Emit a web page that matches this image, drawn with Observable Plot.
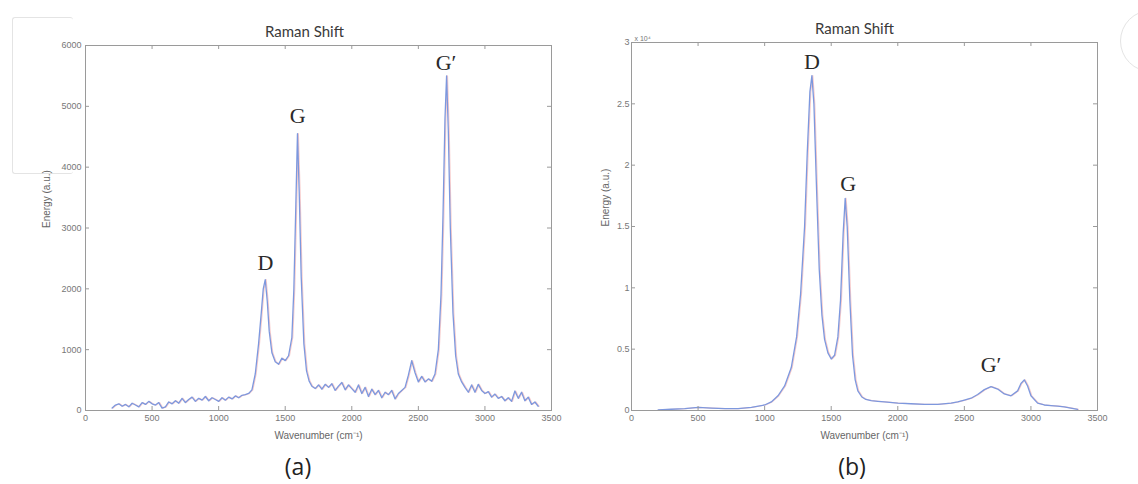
<!DOCTYPE html>
<html><head><meta charset="utf-8">
<script src="https://cdn.jsdelivr.net/npm/d3@7"></script>
<script src="https://cdn.jsdelivr.net/npm/@observablehq/plot@0.6"></script>
<style>
body{margin:0;background:#fff;}
#wrap{position:relative;width:1138px;height:484px;overflow:hidden;background:#fff;}
.panel{position:absolute;top:0;}
.cap{position:absolute;top:450px;font-family:"Open Sans",sans-serif;font-size:23px;color:#222;transform:translateX(-50%);}
.deco{position:absolute;border:1px solid #e4e4e4;}
</style>
</head><body><div id="wrap"></div>
<script>
// ---- Panel (a) data ----
const wavenumberA = [200,225,250,275,300,325,350,375,400,425,450,475,500,525,550,575,600,625,650,675,700,725,750,775,800,825,850,875,900,925,950,975,1000,1025,1050,1075,1100,1125,1150,1175,1200,1225,1250,1275,1300,1320,1335,1350,1365,1380,1400,1425,1450,1475,1500,1525,1550,1565,1580,1592,1605,1620,1640,1660,1680,1700,1725,1750,1775,1800,1825,1850,1875,1900,1925,1950,1975,2000,2025,2050,2075,2100,2125,2150,2175,2200,2225,2250,2275,2300,2325,2350,2375,2400,2425,2450,2475,2500,2525,2550,2575,2600,2625,2650,2670,2685,2700,2712,2725,2740,2760,2780,2800,2825,2850,2875,2900,2925,2950,2975,3000,3025,3050,3075,3100,3125,3150,3175,3200,3225,3250,3275,3300,3325,3350,3375,3400];
const energyA = [40,90,110,70,100,60,120,90,60,130,100,150,110,90,130,40,60,140,110,160,120,200,130,180,220,150,200,170,230,160,210,180,150,210,170,220,190,240,210,250,260,280,340,600,1100,1600,2000,2150,1800,1300,950,800,760,860,820,900,1200,2000,3400,4550,3600,2200,1100,650,480,400,360,420,350,430,380,440,330,400,460,340,420,360,300,420,280,380,230,350,260,330,210,300,260,330,190,280,330,380,580,820,620,470,560,470,520,480,600,1000,1900,3200,4800,5500,4600,3000,1600,900,600,470,380,300,420,300,430,330,280,310,220,270,200,230,160,210,150,320,200,300,160,220,100,140,70];
const yTicksA = [0,1000,2000,3000,4000,5000,6000];

// ---- Panel (b) data ----
const wavenumberB = [200,300,400,500,600,700,800,900,1000,1050,1100,1150,1200,1240,1270,1300,1320,1340,1355,1370,1390,1410,1430,1450,1475,1500,1525,1550,1570,1590,1605,1620,1640,1660,1680,1700,1730,1760,1800,1850,1900,2000,2100,2200,2300,2400,2450,2500,2550,2600,2650,2700,2750,2800,2850,2900,2925,2950,2975,3000,3050,3100,3150,3200,3250,3300,3350];
const energyB = [50,100,150,250,200,150,150,250,450,700,1200,2000,3500,6000,9500,15000,21000,26000,27300,25000,18000,11500,7800,5800,4700,4200,4500,6000,9000,14500,17300,15000,9000,4500,2500,1600,1100,900,800,750,700,600,550,500,500,600,700,850,1000,1300,1700,1950,1750,1350,1200,1600,2200,2500,2000,1200,600,450,400,350,300,200,100];
const yTicksB = [0,5000,10000,15000,20000,25000,30000];

// ---- shared ----
const xTicks = [0,500,1000,1500,2000,2500,3000,3500];
const peakNames = ["D","G","G\u2032"];
const peakXA = [1352,1593,2708];
const peakYA = [2150,4550,5500];
const peakXB = [1355,1628,2700];
const peakYB = [27300,17300,1950];
const captions = ["(a)","(b)"];
const titleText = "Raman Shift";
const xLabel = "Wavenumber (cm\u207B\u00B9)";
const yLabel = "Energy (a.u.)";

const blue = "#7d98de", pink = "#f2a8a8", frameGray = "#9a9a9a", tickGray = "#777";

function panel(opts) {
  const W = 569, H = 484;
  const mT = opts.mT, mB = 74, mL = opts.mL, mR = opts.mR;
  const ph = H - mT - mB, pw = W - mL - mR;
  const data = opts.xs.map((x, i) => ({x, y: opts.ys[i]}));
  const peakMarks = peakNames.map((t, i) =>
    Plot.text([{t, x: opts.px[i], y: opts.py[i]}], {x: "x", y: "y", text: "t", dy: opts.pdy[i],
      fontFamily: "'Liberation Serif', serif", fontSize: 22, fill: "#2a2a2a"}));
  return Plot.plot({
    width: W, height: H,
    marginTop: mT, marginBottom: mB, marginLeft: mL, marginRight: mR,
    x: {domain: [0, 3500]},
    y: {domain: opts.yDomain},
    style: {background: "transparent", fontFamily: "'Liberation Sans', Arial, sans-serif", fontSize: "9px", color: tickGray},
    marks: [
      Plot.line(data, {x: "x", y: "y", stroke: pink, strokeWidth: 1.2, dx: 0.9, strokeOpacity: 0.6}),
      Plot.line(data, {x: "x", y: "y", stroke: blue, strokeWidth: 1.3}),
      Plot.frame({stroke: frameGray}),
      Plot.tickX(xTicks, {x: d => d, insetTop: ph - 4, stroke: frameGray}),
      Plot.tickX(xTicks, {x: d => d, insetBottom: ph - 4, stroke: frameGray}),
      Plot.tickY(opts.yTicks, {y: d => d, insetRight: pw - 4, stroke: frameGray}),
      Plot.tickY(opts.yTicks, {y: d => d, insetLeft: pw - 4, stroke: frameGray}),
      Plot.axisX(xTicks, {tickSize: 0, tickPadding: 4, label: null, tickFormat: d => String(d), fill: tickGray, fontSize: 9}),
      Plot.axisY(opts.yTicks, {tickSize: 0, tickPadding: opts.yPad, label: null, tickFormat: opts.yFormat, fill: tickGray, fontSize: 9}),
      ...peakMarks,
      Plot.text([titleText], {frameAnchor: "top", text: d => d, dy: -19, dx: opts.titleDx, fontFamily: "Lato, sans-serif", fontSize: 15, fill: "#3a3a3a"}),
      Plot.text([xLabel], {frameAnchor: "bottom", text: d => d, dy: 28, fontSize: 10, fill: "#666"}),
      Plot.text([yLabel], {frameAnchor: "left", text: d => d, rotate: -90, dx: opts.yLabDx, fontSize: 10, fill: "#666"}),
      ...(opts.extra || [])
    ]
  });
}

const wrap = document.getElementById("wrap");

const a = panel({
  xs: wavenumberA, ys: energyA, yTicks: yTicksA, yDomain: [0, 6000],
  yFormat: d => String(d), yPad: 4, mT: 45, mL: 85, mR: 18, yLabDx: -39, titleDx: -14,
  px: peakXA, py: peakYA, pdy: [-17, -18, -13]
});
a.classList.add("panel"); a.style.left = "0px";
wrap.appendChild(a);

const b = panel({
  xs: wavenumberB, ys: energyB, yTicks: yTicksB, yDomain: [0, 30000],
  yFormat: d => String(d / 1e4), yPad: 2, mT: 42, mL: 62, mR: 41, yLabDx: -26, titleDx: -10,
  px: peakXB, py: peakYB, pdy: [-14, -14, -22],
  extra: [Plot.text(["x 10\u2074"], {frameAnchor: "top-left", text: d => d, dx: 3, dy: -6, fontSize: 7, textAnchor: "start", fill: "#777"})]
});
b.classList.add("panel"); b.style.left = "569px";
wrap.appendChild(b);

captions.forEach((c, i) => {
  const el = document.createElement("div");
  el.className = "cap";
  el.textContent = c;
  el.style.left = (i === 0 ? 298 : 852) + "px";
  wrap.appendChild(el);
});

// faint cropping artefacts of the original figure
const d1 = document.createElement("div");
d1.className = "deco";
Object.assign(d1.style, {left: "12px", top: "17px", width: "60px", height: "155px", borderRadius: "3px", borderRight: "none"});
wrap.insertBefore(d1, wrap.firstChild);
const d2 = document.createElement("div");
d2.className = "deco";
Object.assign(d2.style, {left: "1120px", top: "10px", width: "60px", height: "60px", borderRadius: "50%"});
wrap.insertBefore(d2, wrap.firstChild);
</script>
</body></html>
